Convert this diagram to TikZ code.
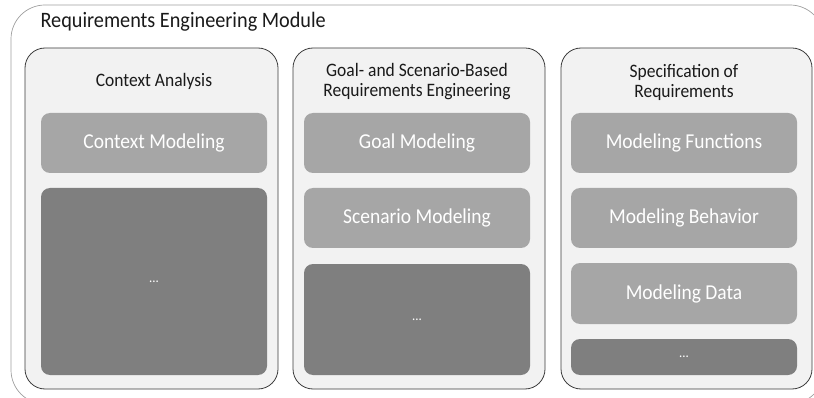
\documentclass[tikz,border=0pt]{standalone}
\usepackage{fontspec}
\setmainfont{Carlito}[FakeStretch=0.92]
\definecolor{framegray}{HTML}{A0A0A0}
\definecolor{panelfill}{HTML}{F2F2F2}
\definecolor{panelline}{HTML}{3C3C3C}
\definecolor{lightbox}{HTML}{A6A6A6}
\definecolor{darkbox}{HTML}{7F7F7F}
\definecolor{inktext}{HTML}{1A1A1A}
\begin{document}
\begin{tikzpicture}[x=1pt,y=-1pt,
  module/.style={draw=framegray, line width=0.7pt, fill=white, rounded corners=34pt},
  panel/.style={draw=panelline, line width=0.8pt, fill=panelfill, rounded corners=20pt,
    inner sep=0pt, minimum height=341pt},
  header/.style={align=center, text=inktext, font=\fontsize{19}{20}\selectfont},
  activity/.style={fill=lightbox, rounded corners=9pt, inner sep=0pt,
    minimum width=226pt, text=white, font=\fontsize{21.2}{24}\selectfont},
  more/.style={fill=darkbox, rounded corners=9pt, inner sep=0pt,
    minimum width=226pt, text=white, font=\fontsize{14}{16}\selectfont},
]
\useasboundingbox (0,0) rectangle (814,398);
\begin{scope}
  \clip (0,0) rectangle (814,398);
  % enclosing module frame
  \draw[module] (11,5) rectangle (824,404);
\end{scope}
\node[anchor=west, text=inktext, font=\fontsize{22}{26}\selectfont] (title) at (37,22)
  {Requirements Engineering Module};

% three panels
\node[panel, minimum width=253pt] (p1) at (151.5,218.5) {};
\node[panel, minimum width=252pt] (p2) at (419,218.5) {};
\node[panel, minimum width=251pt] (p3) at (686.5,218.5) {};

% panel headings
\node[header] (h1) at (154,81) {Context Analysis};
\node[header] (h2) at (417,82) {Goal- and Scenario-Based\\Requirements Engineering};
\node[header] (h3) at (684,82) {Specification of\\Requirements};

% context analysis
\node[activity, minimum height=60pt] (ctx) at (154,143) {Context Modeling};
\node[more, minimum height=187pt] (ctxmore) at (154,281.5) {...};

% goal- and scenario-based RE
\node[activity, minimum height=60pt] (goal) at (417,143) {Goal Modeling};
\node[activity, minimum height=60pt] (scen) at (417,218) {Scenario Modeling};
\node[more, minimum height=111pt] (gsmore) at (417,319.5) {...};

% specification of requirements
\node[activity, minimum height=60pt] (func) at (684,143) {Modeling Functions};
\node[activity, minimum height=60pt] (behav) at (684,218) {Modeling Behavior};
\node[activity, minimum height=61pt] (data) at (684,293.5) {Modeling Data};
\node[more, minimum height=36pt] (specmore) at (684,357) {...};
\end{tikzpicture}
\end{document}
